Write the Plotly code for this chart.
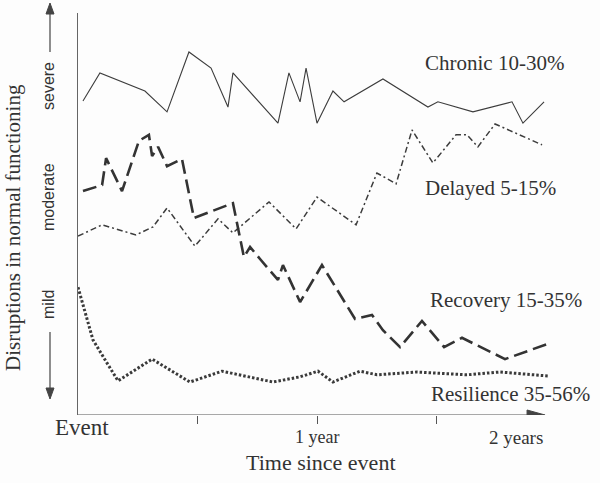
import plotly.graph_objects as go

# ---- data (x in months since event, y = disruption level 0-100) ----
chronic_x = [0.25, 1.10, 3.36, 4.47, 5.57, 6.68, 7.53, 7.78, 10.04, 10.59, 11.15, 11.45,
             12.0, 12.80, 13.36, 15.31, 17.57, 18.07, 19.83, 21.79, 22.34, 23.40]
chronic_y = [78.1, 85.1, 80.6, 75.4, 90.3, 86.3, 76.6, 85.1, 72.6, 85.1, 77.9, 86.3,
             72.6, 80.6, 77.9, 83.6, 76.6, 77.9, 75.4, 77.9, 72.6, 77.9]

delayed_x = [0.0, 1.21, 2.91, 3.77, 4.47, 5.87, 7.03, 7.78, 9.59, 10.95, 12.0, 13.96,
             15.01, 15.97, 16.77, 17.82, 18.98, 19.53, 20.08, 20.94, 23.30]
delayed_y = [44.5, 47.3, 44.8, 46.8, 51.5, 42.0, 48.8, 45.3, 53.0, 46.3, 54.2, 47.3,
             60.2, 57.5, 70.9, 62.7, 69.7, 69.7, 66.7, 72.4, 67.2]

recovery_x = [0.25, 1.21, 1.41, 2.21, 3.06, 3.56, 3.72, 4.02, 4.47, 5.22, 5.82, 7.78,
              8.33, 8.64, 9.14, 10.04, 10.29, 11.15, 12.25, 13.91, 14.76, 15.31, 16.17,
              17.27, 18.38, 19.28, 21.44, 23.70]
recovery_y = [55.7, 57.2, 63.9, 55.7, 68.2, 69.7, 64.4, 66.7, 61.9, 63.7, 49.0, 52.7,
              39.3, 41.8, 38.8, 33.6, 37.3, 28.1, 37.3, 23.9, 24.9, 21.1, 16.9,
              23.4, 16.9, 19.2, 13.9, 17.9]

resilience_x = [0.0, 0.35, 0.75, 1.46, 2.01, 3.72, 5.62, 7.23, 9.79, 11.15, 12.05, 12.80,
                14.16, 15.01, 17.02, 19.53, 21.19, 23.60]
resilience_y = [31.8, 25.6, 18.7, 12.9, 8.5, 13.9, 8.2, 10.9, 8.2, 9.5, 10.9, 8.2,
                10.9, 10.0, 10.7, 10.0, 10.7, 9.7]

series_labels = ["Chronic 10-30%", "Delayed 5-15%", "Recovery 15-35%", "Resilience 35-56%"]
x_tick_months = [6, 12, 18]
x_label_months = [0, 12, 22]
x_label_text = ["Event", "1 year", "2 years"]
axis_end_month = 23.45

# ---- layout geometry ----
W, H = 600, 483
L, T, R, B = 78, 13, 40, 68
PW, PH = W - L - R, H - T - B
XMAX = PW / 19.917


def pxx(p):
    return (p - L) / PW


def pxy(p):
    return (T + PH - p) / PH


SERIF = "Liberation Serif, Times New Roman, serif"
SANS = "Liberation Sans, Arial, sans-serif"
INK = "#333333"

fig = go.Figure()
fig.add_trace(go.Scatter(x=chronic_x, y=chronic_y, mode="lines",
                         line=dict(color="#3c3c3c", width=1.1)))
fig.add_trace(go.Scatter(x=delayed_x, y=delayed_y, mode="lines",
                         line=dict(color="#3c3c3c", width=1.5, dash="6px,3px,2px,3px")))
fig.add_trace(go.Scatter(x=recovery_x, y=recovery_y, mode="lines",
                         line=dict(color="#333333", width=2.6, dash="14px,6px")))
fig.add_trace(go.Scatter(x=resilience_x, y=resilience_y, mode="lines",
                         line=dict(color="#3a3a3a", width=3, dash="2.5px,2px")))

annotations = []
label_pos = [(423, 63), (423, 188), (428, 300), (429, 394)]
for txt, (lx, ly) in zip(series_labels, label_pos):
    annotations.append(dict(text=txt, xref="paper", yref="paper", x=pxx(lx), y=pxy(ly),
                            xanchor="left", yanchor="middle", showarrow=False,
                            font=dict(family=SERIF, size=21, color=INK)))

# x labels
label_y = [428, 437, 437]
label_size = [23, 18, 19]
for m, t, yy, sz in zip(x_label_months, x_label_text, label_y, label_size):
    xm = m if t != "Event" else 0.2
    annotations.append(dict(text=t, xref="x", yref="paper", x=xm, y=pxy(yy),
                            xanchor="center", yanchor="middle", showarrow=False,
                            font=dict(family=SERIF, size=sz, color=INK)))

annotations.append(dict(text="Time since event", xref="paper", yref="paper",
                        x=pxx(321), y=pxy(462), xanchor="center", yanchor="middle",
                        showarrow=False, font=dict(family=SERIF, size=22, color=INK)))
annotations.append(dict(text="Disruptions in normal functioning", xref="paper", yref="paper",
                        x=pxx(13), y=pxy(228), xanchor="center", yanchor="middle",
                        textangle=-90, showarrow=False,
                        font=dict(family=SERIF, size=21, color=INK)))
for t, yy in [("severe", 86), ("moderate", 197), ("mild", 305)]:
    annotations.append(dict(text=t, xref="paper", yref="paper", x=pxx(48), y=pxy(yy),
                            xanchor="center", yanchor="middle", textangle=-90,
                            showarrow=False, font=dict(family=SANS, size=16, color=INK)))

shapes = []
# x axis line
shapes.append(dict(type="line", xref="x", yref="y", x0=0, x1=axis_end_month - 0.3,
                   y0=0, y1=0, line=dict(color="#555555", width=1.2)))
shapes.append(dict(type="path", xref="x", yref="y", xsizemode="pixel", ysizemode="pixel",
                   xanchor=axis_end_month, yanchor=0,
                   path="M-18,-5 L0,0 L-18,5 Z", fillcolor="#444444",
                   line=dict(color="#444444", width=1)))
# vertical arrows beside labels
shapes.append(dict(type="line", xref="paper", yref="paper", x0=pxx(50), x1=pxx(50),
                   y0=pxy(52), y1=pxy(10), line=dict(color="#444444", width=1.2)))
shapes.append(dict(type="path", xref="paper", yref="paper", xsizemode="pixel",
                   ysizemode="pixel", xanchor=pxx(50), yanchor=pxy(3),
                   path="M-4,-11 L0,0 L4,-11 Z", fillcolor="#444444",
                   line=dict(color="#444444", width=1)))
shapes.append(dict(type="line", xref="paper", yref="paper", x0=pxx(50), x1=pxx(50),
                   y0=pxy(332), y1=pxy(390), line=dict(color="#444444", width=1.2)))
shapes.append(dict(type="path", xref="paper", yref="paper", xsizemode="pixel",
                   ysizemode="pixel", xanchor=pxx(50), yanchor=pxy(399),
                   path="M-4,11 L0,0 L4,11 Z", fillcolor="#444444",
                   line=dict(color="#444444", width=1)))

fig.update_layout(
    width=W, height=H,
    margin=dict(l=L, r=R, t=T, b=B, pad=0),
    paper_bgcolor="#fdfdfd", plot_bgcolor="#fdfdfd",
    showlegend=False,
    annotations=annotations,
    shapes=shapes,
    xaxis=dict(range=[0, XMAX], showgrid=False, zeroline=False, showline=False,
               tickmode="array", tickvals=x_tick_months, ticktext=["", "", ""],
               ticks="outside", ticklen=8, tickwidth=1.2, tickcolor="#555555",
               fixedrange=True),
    yaxis=dict(range=[0, 100], showgrid=False, zeroline=False, showline=True,
               linecolor="#666666", linewidth=1.2, showticklabels=False, ticks="",
               fixedrange=True),
)

fig.write_html("out.html", config={"displayModeBar": False},
               post_script="document.body.style.margin='0';document.body.style.overflow='hidden';")
